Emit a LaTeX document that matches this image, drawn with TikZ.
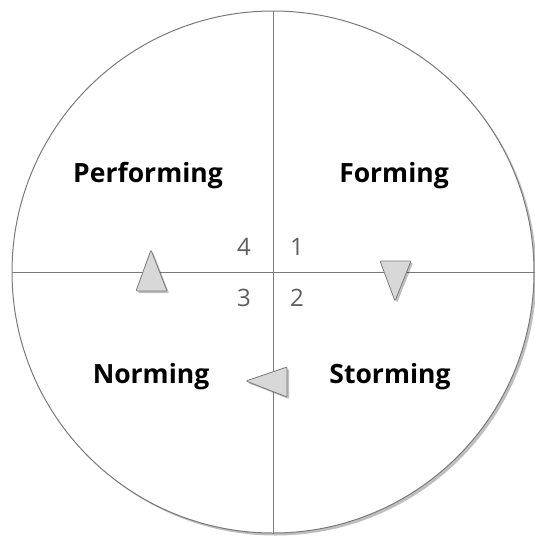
\documentclass[tikz,border=0pt]{standalone}
\usepackage{fontspec}
\setmainfont{Open Sans}
\usetikzlibrary{shadows}

\definecolor{rimgray}{HTML}{7A7A7A}
\definecolor{numgray}{HTML}{5E5E5E}
\definecolor{markfill}{HTML}{D8D8D8}

\begin{document}
\begin{tikzpicture}[
        x=1pt, y=-1pt,
        disc/.style={circle, draw=rimgray, line width=1pt, fill=white, minimum size=522pt, inner sep=0pt,
            drop shadow={shadow xshift=2.5pt, shadow yshift=-2.5pt, opacity=0.25, fill=black}},
        divider/.style={draw=rimgray, line width=0.9pt},
        stage/.style={font=\fontsize{26.5}{30}\selectfont\bfseries, text=black},
        stepnum/.style={font=\fontsize{24}{28}\selectfont, text=numgray},
        marker/.style={draw=rimgray, fill=markfill, line width=0.8pt, rounded corners=1pt,
            drop shadow={shadow xshift=2pt, shadow yshift=-2pt, opacity=0.25, fill=black}}
    ]
    \useasboundingbox (0,0) rectangle (535,536);

    % Circle and quadrant lines
    \node (wheel) [disc] at (273,272) {};
    \draw [divider] (wheel.north) -- (wheel.south);
    \draw [divider] (wheel.west) -- (wheel.east);

    % Stage names
    \node (performing) [stage] at (148,176) {Performing};
    \node (forming) [stage] at (394,176) {Forming};
    \node (norming) [stage] at (151,377) {Norming};
    \node (storming) [stage] at (390,377) {Storming};

    % Step numbers
    \node (n1) [stepnum] at (297,247) {1};
    \node (n2) [stepnum] at (297,298) {2};
    \node (n3) [stepnum] at (244,298) {3};
    \node (n4) [stepnum] at (244,247) {4};

    % Direction markers
    \path [marker] (380,261) -- (411,261) -- (395,301) -- cycle;
    \path [marker] (287,367) -- (287,397) -- (246,381) -- cycle;
    \path [marker] (136,291) -- (151,250) -- (167,291) -- cycle;
\end{tikzpicture}
\end{document}
